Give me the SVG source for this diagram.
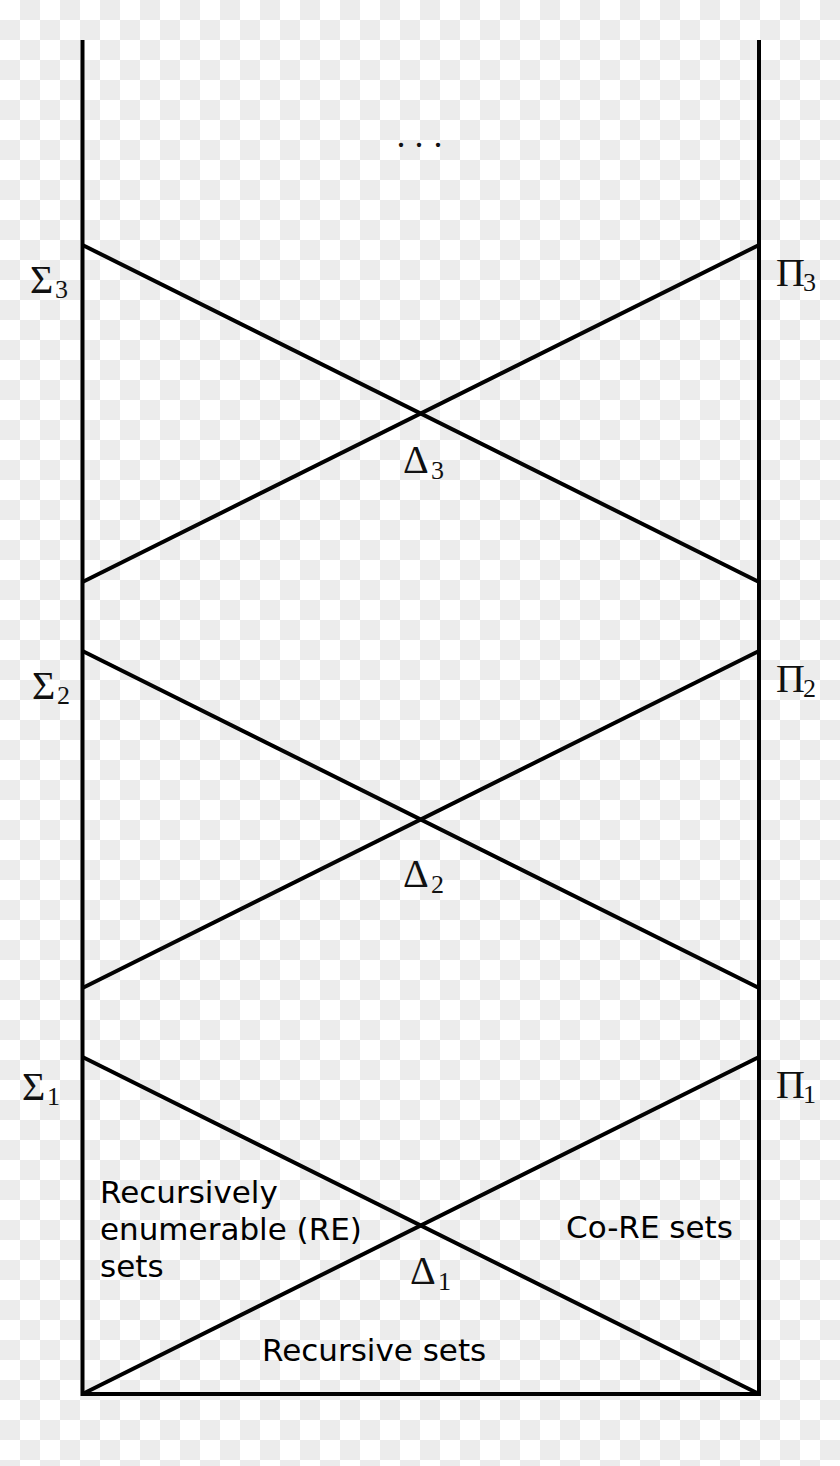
<svg xmlns="http://www.w3.org/2000/svg" width="840" height="1466" viewBox="0 0 840 1466">
  <defs>
    <pattern id="checker" patternUnits="userSpaceOnUse" width="40" height="40">
      <rect width="40" height="40" fill="#ffffff"/>
      <rect x="20" y="0" width="20" height="20" fill="#ececec"/>
      <rect x="0" y="20" width="20" height="20" fill="#ececec"/>
    </pattern>
  </defs>
  <style>
    .ln { stroke: #000; stroke-width: 4; fill: none; stroke-linecap: butt; stroke-linejoin: miter; }
    .m { font-family: "Liberation Serif", "DejaVu Serif", serif; font-size: 40px; fill: #111; }
    .s { font-family: "Liberation Serif", "DejaVu Serif", serif; font-size: 26px; fill: #111; }
    .d { font-family: "Liberation Serif", "DejaVu Serif", serif; font-size: 36px; fill: #111; }
    .t { font-family: "DejaVu Sans", "Liberation Sans", sans-serif; font-size: 31px; fill: #000; }
  </style>
  <rect width="840" height="1466" fill="url(#checker)"/>
  <g id="connectors">
    <path class="ln" d="M82.5,40 V1394 H759 V40"/>
    <line class="ln" x1="82.5" y1="245" x2="759" y2="582"/>
    <line class="ln" x1="759" y1="245" x2="82.5" y2="582"/>
    <line class="ln" x1="82.5" y1="651" x2="759" y2="988"/>
    <line class="ln" x1="759" y1="651" x2="82.5" y2="988"/>
    <line class="ln" x1="82.5" y1="1057" x2="759" y2="1394"/>
    <line class="ln" x1="759" y1="1057" x2="82.5" y2="1394"/>
  </g>
  <g id="dots"><text class="d" x="396.5 414.5 433.5" y="146.5">...</text></g>
  <g id="sigma3"><text class="m" x="30" y="293">Σ</text><text class="s" x="55" y="298">3</text></g>
  <g id="pi3"><text class="m" x="776" y="286">Π</text><text class="s" x="803" y="291">3</text></g>
  <g id="delta3"><text class="m" x="403" y="473">Δ</text><text class="s" x="431" y="479">3</text></g>
  <g id="sigma2"><text class="m" x="32" y="699">Σ</text><text class="s" x="57" y="704">2</text></g>
  <g id="pi2"><text class="m" x="776" y="692">Π</text><text class="s" x="803" y="697">2</text></g>
  <g id="delta2"><text class="m" x="403" y="887">Δ</text><text class="s" x="431" y="893">2</text></g>
  <g id="sigma1"><text class="m" x="22" y="1100">Σ</text><text class="s" x="47" y="1105">1</text></g>
  <g id="pi1"><text class="m" x="776" y="1098">Π</text><text class="s" x="803" y="1103">1</text></g>
  <g id="delta1"><text class="m" x="410" y="1284">Δ</text><text class="s" x="438" y="1290">1</text></g>
  <g id="re">
    <text class="t" x="100" y="1203">Recursively</text>
    <text class="t" x="100" y="1240">enumerable (RE)</text>
    <text class="t" x="100" y="1277">sets</text>
  </g>
  <g id="core"><text class="t" x="566" y="1238">Co-RE sets</text></g>
  <g id="recursive"><text class="t" x="262" y="1361">Recursive sets</text></g>
</svg>
